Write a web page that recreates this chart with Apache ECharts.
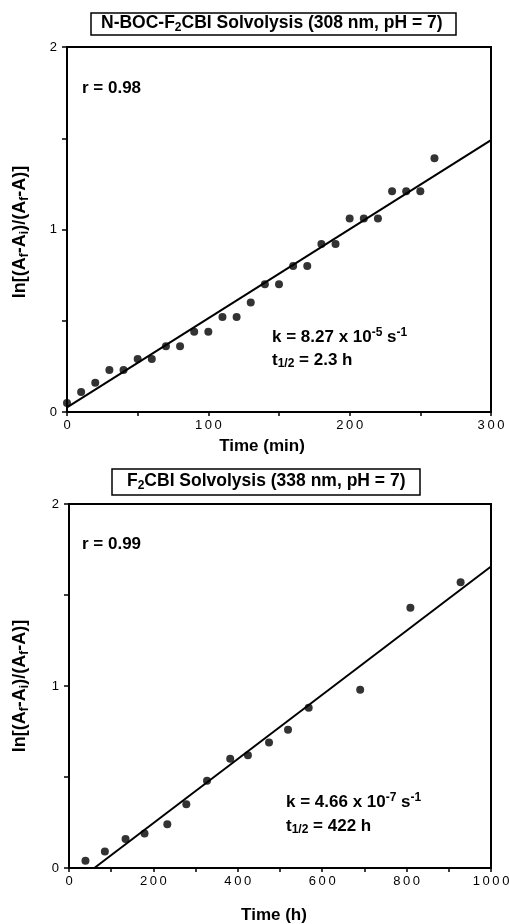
<!DOCTYPE html>
<html>
<head>
<meta charset="utf-8">
<script src="https://cdn.jsdelivr.net/npm/echarts@6/dist/echarts.min.js"></script>
<style>
  html, body { margin: 0; padding: 0; background: #fff; }
  #chart { width: 509px; height: 924px; }
</style>
</head>
<body>
<div id="chart"></div>
<script>
// N-BOC-F2CBI solvolysis, time in min
var timeMin = [0, 10, 20, 30, 40, 50, 60, 70, 80, 90, 100, 110, 120, 130, 140, 150, 160, 170, 180, 190, 200, 210, 220, 230, 240, 250, 260];
var lnTop = [0.05, 0.11, 0.16, 0.23, 0.23, 0.29, 0.29, 0.36, 0.36, 0.44, 0.44, 0.52, 0.52, 0.60, 0.70, 0.70, 0.80, 0.80, 0.92, 0.92, 1.06, 1.06, 1.06, 1.21, 1.21, 1.21, 1.39];
var fitTopX = [0, 300];
var fitTopY = [0.025, 1.49];

// F2CBI solvolysis, time in h
var timeH = [39, 85, 134, 179, 233, 278, 327, 382, 424, 474, 519, 568, 690, 809, 928];
var lnBottom = [0.04, 0.09, 0.16, 0.19, 0.24, 0.35, 0.48, 0.60, 0.62, 0.69, 0.76, 0.88, 0.98, 1.43, 1.57];
var fitBottomX = [60, 1000];
var fitBottomY = [0, 1.657];

var yTicks = [0, 1, 2];

var FONT = '"Liberation Sans", Arial, Helvetica, sans-serif';
var chart = echarts.init(document.getElementById('chart'));

function pairs(xs, ys) {
    return xs.map(function (x, i) { return [x, ys[i]]; });
}

function rich(size, sub) {
    return {
        b: {fontSize: size, fontWeight: 'bold', fontFamily: FONT, color: '#000', lineHeight: size + 3},
        s: {fontSize: sub, fontWeight: 'bold', fontFamily: FONT, color: '#000', lineHeight: sub - 3, verticalAlign: 'bottom'},
        p: {fontSize: sub, fontWeight: 'bold', fontFamily: FONT, color: '#000', lineHeight: sub - 2, verticalAlign: 'top'}
    };
}
var richTitle = rich(17.5, 12);
var richLabel = rich(17, 12);
var richAxis = rich(18, 12);

var yLabel = '{b|ln[(A}{s|f}{b|-A}{s|i}{b|)/(A}{s|f}{b|-A)]}';

function xAxisOf(idx, max, interval, labelStep) {
    return {
        type: 'value', gridIndex: idx, min: 0, max: max, interval: interval,
        axisLine: {lineStyle: {color: '#000', width: 2}},
        axisTick: {inside: false, length: 4, lineStyle: {color: '#000', width: 1.5}},
        splitLine: {show: false},
        axisLabel: {
            fontSize: 13, fontFamily: FONT, color: '#000', margin: 7,
            formatter: function (v) { return v % labelStep === 0 ? String(v).split('').join('\u2009') : ''; }
        }
    };
}

function yAxisOf(idx) {
    return {
        type: 'value', gridIndex: idx, min: 0, max: 2, interval: 0.5,
        axisLine: {lineStyle: {color: '#000', width: 2}},
        axisTick: {inside: false, length: 5, lineStyle: {color: '#000', width: 1.5}},
        splitLine: {show: false},
        axisLabel: {
            fontSize: 13, fontFamily: FONT, color: '#000', margin: 10,
            formatter: function (v) { return yTicks.indexOf(v) >= 0 ? String(v) : ''; }
        }
    };
}

function label(x, y, text, r, align, rot) {
    return {
        type: 'text', x: x, y: y, rotation: rot || 0,
        style: {text: text, rich: r, align: align, verticalAlign: 'middle'}
    };
}

var option = {
    backgroundColor: '#fff',
    animation: false,
    title: [{
        text: '{b|N-BOC-F}{s|2}{b|CBI Solvolysis (308 nm, pH = 7)}',
        left: 91, top: 11,
        padding: [2, 14, 2, 10],
        borderColor: '#000', borderWidth: 1.5,
        textStyle: {rich: richTitle}
    }, {
        text: '{b|F}{s|2}{b|CBI Solvolysis (338 nm, pH = 7)}',
        left: 112, top: 467,
        padding: [4, 15, 4, 15],
        borderColor: '#000', borderWidth: 1.5,
        textStyle: {rich: richTitle}
    }],
    grid: [
        {left: 67, right: 18, top: 47, height: 365, show: true, borderColor: '#000', borderWidth: 2, outerBoundsMode: 'none'},
        {left: 69, right: 18, top: 504, height: 364, show: true, borderColor: '#000', borderWidth: 2, outerBoundsMode: 'none'}
    ],
    xAxis: [
        xAxisOf(0, 300, 50, 100),
        xAxisOf(1, 1000, 100, 200)
    ],
    yAxis: [yAxisOf(0), yAxisOf(1)],
    series: [{
        type: 'line', xAxisIndex: 0, yAxisIndex: 0,
        data: pairs(fitTopX, fitTopY), showSymbol: false,
        lineStyle: {color: '#000', width: 2}
    }, {
        type: 'scatter', xAxisIndex: 0, yAxisIndex: 0,
        data: pairs(timeMin, lnTop), symbolSize: 8,
        itemStyle: {color: '#000'}
    }, {
        type: 'line', xAxisIndex: 1, yAxisIndex: 1,
        data: pairs(fitBottomX, fitBottomY), showSymbol: false,
        lineStyle: {color: '#000', width: 2}
    }, {
        type: 'scatter', xAxisIndex: 1, yAxisIndex: 1,
        data: pairs(timeH, lnBottom), symbolSize: 8,
        itemStyle: {color: '#000'}
    }],
    graphic: [
        label(20, 232, yLabel, richAxis, 'center', Math.PI / 2),
        label(20, 686, yLabel, richAxis, 'center', Math.PI / 2),
        label(262, 446, '{b|Time (min)}', richLabel, 'center'),
        label(274, 915, '{b|Time (h)}', richLabel, 'center'),
        label(82, 88, '{b|r = 0.98}', richLabel, 'left'),
        label(272, 337, '{b|k = 8.27 x 10}{p|-5}{b| s}{p|-1}', richLabel, 'left'),
        label(272, 360, '{b|t}{s|1/2}{b| = 2.3 h}', richLabel, 'left'),
        label(82, 544, '{b|r = 0.99}', richLabel, 'left'),
        label(286, 802, '{b|k = 4.66 x 10}{p|-7}{b| s}{p|-1}', richLabel, 'left'),
        label(286, 826, '{b|t}{s|1/2}{b| = 422 h}', richLabel, 'left')
    ]
};

chart.setOption(option);
</script>
</body>
</html>
